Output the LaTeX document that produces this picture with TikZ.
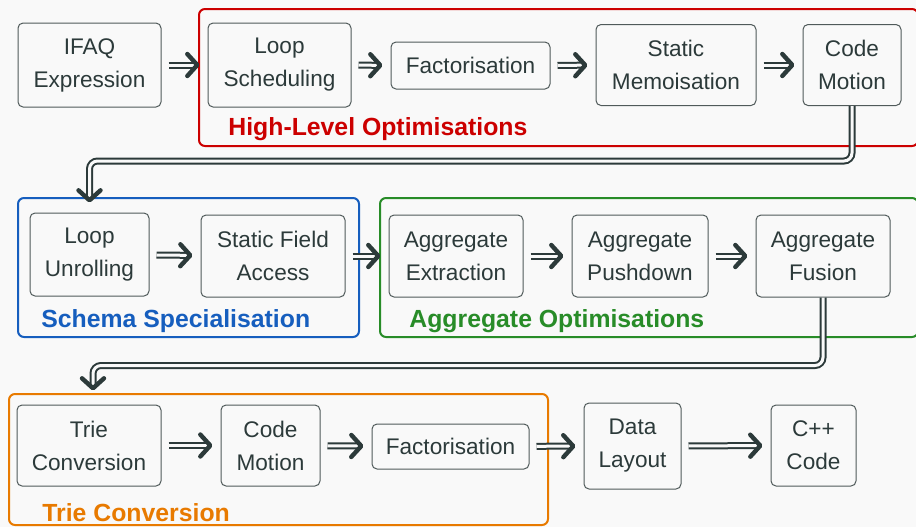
\documentclass[tikz,border=0pt]{standalone}
\usepackage{fontspec}
\setmainfont{Liberation Sans}
\usetikzlibrary{arrows.meta,positioning,calc}
\definecolor{bg}{RGB}{249,249,249}
\definecolor{ink}{RGB}{44,58,58}
\definecolor{edge}{RGB}{80,90,90}
\definecolor{hlred}{RGB}{204,0,0}
\definecolor{ssblue}{RGB}{22,94,190}
\definecolor{aggreen}{RGB}{40,140,40}
\definecolor{trorange}{RGB}{232,122,0}
\tikzset{
  box/.style={draw=edge,rounded corners=2.5pt,align=center,text=ink,line width=0.5pt,
    font=\fontsize{11.3}{16.5}\selectfont,inner sep=2pt},
  grp/.style={draw=#1,rounded corners=3pt,line width=1pt},
  lbl/.style={font=\fontsize{12.4}{14}\selectfont\bfseries,anchor=west,inner sep=0pt},
  arr/.style={draw=ink,double=bg,double distance=1.5pt,line width=1pt,
    -{Straight Barb[length=5pt,width=11pt,line width=2.2pt,round]},
    shorten <=3.5pt,shorten >=4pt}
}
\begin{document}
\begin{tikzpicture}[x=0.5pt,y=-0.5pt]
\fill[bg] (0,0) rectangle (916,527);
\useasboundingbox (0,0) rectangle (916,527);
% groups
\node[grp=hlred,minimum width=359.5pt,minimum height=68.5pt] (gHigh) at (558.5,77.5) {};
\node[grp=ssblue,minimum width=170.5pt,minimum height=69.5pt] (gSchema) at (188.5,267.5) {};
\node[grp=aggreen,minimum width=269pt,minimum height=69.5pt] (gAgg) at (649,267.5) {};
\node[grp=trorange,minimum width=269.5pt,minimum height=65.5pt] (gTrie) at (278.5,459.5) {};
\node[lbl,text=hlred] (lHigh) at (228,129) {High-Level Optimisations};
\node[lbl,text=ssblue] (lSchema) at (41,321) {Schema Specialisation};
\node[lbl,text=aggreen] (lAgg) at (409,321) {Aggregate Optimisations};
\node[lbl,text=trorange] (lTrie) at (42,513) {Trie Conversion};
% row 1
\node[box,minimum width=71.5pt,minimum height=42pt] (ifaq) at (89.5,65) {IFAQ\\Expression};
\node[box,minimum width=71.5pt,minimum height=42pt] (ls) at (279.5,65) {Loop\\Scheduling};
\node[box,minimum width=79.5pt,minimum height=23.5pt] (fac1) at (470.5,65.5) {Factorisation};
\node[box,minimum width=80pt,minimum height=40.5pt] (sm) at (676,65) {Static\\Memoisation};
\node[box,minimum width=49pt,minimum height=40.5pt] (cm1) at (852,65) {Code\\Motion};
% row 2
\node[box,minimum width=59.5pt,minimum height=41.5pt] (lu) at (89.5,254.5) {Loop\\Unrolling};
\node[box,minimum width=72pt,minimum height=41pt] (sfa) at (273,256) {Static Field\\Access};
\node[box,minimum width=67pt,minimum height=41pt] (ae) at (456,256) {Aggregate\\Extraction};
\node[box,minimum width=68pt,minimum height=41pt] (ap) at (640,256) {Aggregate\\Pushdown};
\node[box,minimum width=67pt,minimum height=41pt] (af) at (823,256) {Aggregate\\Fusion};
% row 3
\node[box,minimum width=72pt,minimum height=40.5pt] (tc) at (89,445.5) {Trie\\Conversion};
\node[box,minimum width=49.5pt,minimum height=40.5pt] (cm2) at (270.5,445.5) {Code\\Motion};
\node[box,minimum width=78.5pt,minimum height=22.5pt] (fac2) at (450.5,446.5) {Factorisation};
\node[box,minimum width=48.5pt,minimum height=43pt] (dl) at (632.5,446) {Data\\Layout};
\node[box,minimum width=42.5pt,minimum height=40.5pt] (cpp) at (813.5,445.5) {C++\\Code};
% arrows
\foreach \a/\b in {ifaq/ls,ls/fac1,fac1/sm,sm/cm1,lu/sfa,sfa/ae,ae/ap,ap/af,tc/cm2,cm2/fac2,fac2/dl,dl/cpp}
  \draw[arr] (\a) -- (\b);
\draw[arr,rounded corners=4pt,shorten <=0pt,shorten >=5pt] (cm1.south) -- ++(0,55) -| (lu.north);
\draw[arr,rounded corners=4pt,shorten <=0pt,shorten >=7pt] (af.south) -- ++(0,68) -| ($(tc.north)+(4,0)$);
\end{tikzpicture}
\end{document}
